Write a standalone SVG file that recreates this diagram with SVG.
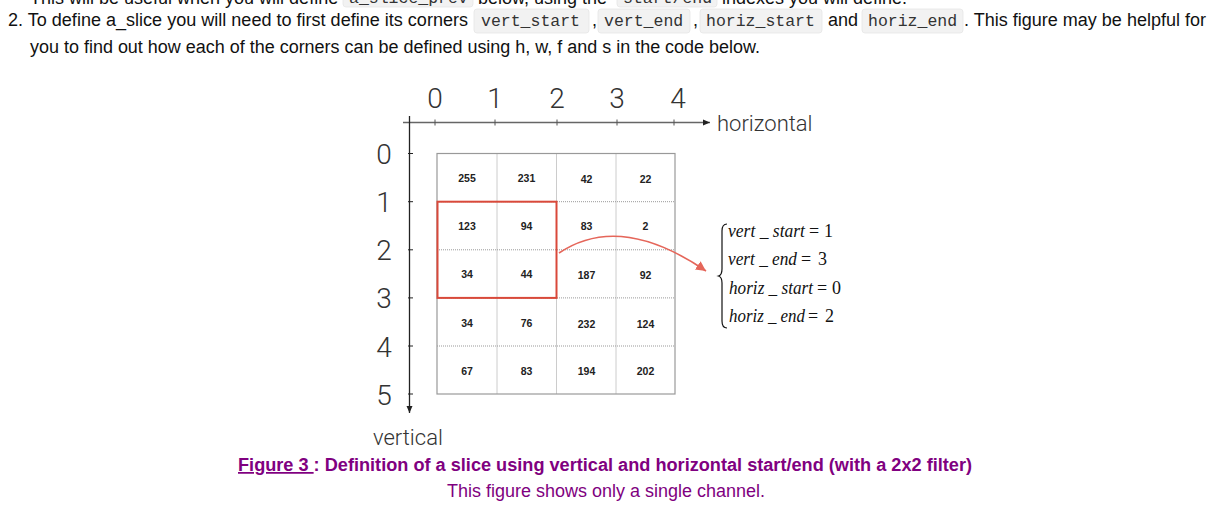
<svg xmlns="http://www.w3.org/2000/svg" width="1232" height="516" viewBox="0 0 1232 516">
<style>
.body{font-family:"Liberation Sans",Arial,sans-serif;font-size:18px;fill:#111}
.code{font-family:"Liberation Mono","DejaVu Sans Mono",monospace;font-size:16.5px;fill:#333}
.cbox{fill:#f2f2f2;stroke:#e6e6e6;stroke-width:0.8}
.ax{font-family:Roboto,"Liberation Sans",Arial,sans-serif;font-weight:300;font-size:28px;fill:#333;text-anchor:middle}
.axl{font-family:Roboto,"Liberation Sans",Arial,sans-serif;font-weight:300;font-size:22px;fill:#333}
.cell{font-family:"Liberation Sans",Arial,sans-serif;font-weight:bold;font-size:10.5px;fill:#222;text-anchor:middle}
.grid{stroke:#999;stroke-width:1;stroke-dasharray:1 1;fill:none}
.eq{font-family:"Liberation Serif","Times New Roman",serif;font-size:18px;fill:#111}
.cap{font-family:"Liberation Sans",Arial,sans-serif;font-size:17.5px;fill:#800080}
</style>
<defs>
<marker id="axarrow" markerUnits="userSpaceOnUse" markerWidth="10" markerHeight="10" refX="7" refY="3.5" orient="auto">
<path d="M0,0.5 L7,3.5 L0,6.5 Z" fill="#222"/>
</marker>
<marker id="redarrow" markerUnits="userSpaceOnUse" markerWidth="14" markerHeight="14" refX="10" refY="5" orient="auto">
<path d="M0,0 L10,5 L0,10 Z" fill="#e5665a"/>
</marker>
</defs>

<g id="header">
<text class="body" x="30" y="4">This will be useful when you will define</text>
<rect class="cbox" x="343" y="-17" width="130" height="24" rx="3"/>
<text class="code" x="349" y="3">a_slice_prev</text>
<text class="body" x="478" y="4">below, using the</text>
<rect class="cbox" x="617" y="-17" width="100" height="24" rx="3"/>
<text class="code" x="623" y="3">start/end</text>
<text class="body" x="722" y="4">indexes you will define.</text>

<text class="body" x="8" y="26" textLength="460" lengthAdjust="spacingAndGlyphs">2. To define a_slice you will need to first define its corners</text>
<rect class="cbox" x="474" y="9" width="115" height="24" rx="3"/>
<text class="code" x="481" y="26">vert_start</text>
<text class="body" x="592" y="26">,</text>
<rect class="cbox" x="598" y="9" width="92" height="24" rx="3"/>
<text class="code" x="604" y="26">vert_end</text>
<text class="body" x="693" y="26">,</text>
<rect class="cbox" x="700" y="9" width="122" height="24" rx="3"/>
<text class="code" x="706" y="26">horiz_start</text>
<text class="body" x="828" y="26">and</text>
<rect class="cbox" x="862" y="9" width="101" height="24" rx="3"/>
<text class="code" x="868" y="26">horiz_end</text>
<text class="body" x="964" y="26" textLength="242" lengthAdjust="spacingAndGlyphs">. This figure may be helpful for</text>
<text class="body" x="30" y="53" textLength="730" lengthAdjust="spacingAndGlyphs">you to find out how each of the corners can be defined using h, w, f and s in the code below.</text>
</g>

<g id="axes">
<line x1="403" y1="122.5" x2="710" y2="122.5" stroke="#666" stroke-width="1.3" marker-end="url(#axarrow)"/>
<line x1="409.5" y1="116" x2="409.5" y2="413" stroke="#222" stroke-width="1.3" marker-end="url(#axarrow)"/>
<g stroke="#555" stroke-width="1">
<line x1="435" y1="119.5" x2="435" y2="125.5"/>
<line x1="495" y1="119.5" x2="495" y2="125.5"/>
<line x1="557" y1="119.5" x2="557" y2="125.5"/>
<line x1="617" y1="119.5" x2="617" y2="125.5"/>
<line x1="674" y1="119.5" x2="674" y2="125.5"/>
</g>
<g stroke="#222" stroke-width="1">
<line x1="408" y1="153.5" x2="413" y2="153.5"/>
<line x1="408" y1="201.7" x2="413" y2="201.7"/>
<line x1="408" y1="249.8" x2="413" y2="249.8"/>
<line x1="408" y1="297.9" x2="413" y2="297.9"/>
<line x1="408" y1="346" x2="413" y2="346"/>
<line x1="408" y1="394" x2="413" y2="394"/>
</g>
<text class="ax" x="435" y="108">0</text>
<text class="ax" x="495" y="108">1</text>
<text class="ax" x="557" y="108">2</text>
<text class="ax" x="617" y="108">3</text>
<text class="ax" x="678" y="108">4</text>
<text class="ax" x="384" y="164">0</text>
<text class="ax" x="384" y="212">1</text>
<text class="ax" x="384" y="260">2</text>
<text class="ax" x="384" y="308">3</text>
<text class="ax" x="384" y="357">4</text>
<text class="ax" x="384" y="405">5</text>
<text class="axl" x="717" y="131">horizontal</text>
<text class="axl" x="373" y="445">vertical</text>
</g>

<g id="matrix">
<line class="grid" x1="497" y1="153.5" x2="497" y2="394"/>
<line class="grid" x1="556.5" y1="153.5" x2="556.5" y2="394"/>
<line class="grid" x1="616" y1="153.5" x2="616" y2="394"/>
<line class="grid" x1="437" y1="201.7" x2="675" y2="201.7"/>
<line class="grid" x1="437" y1="249.8" x2="675" y2="249.8"/>
<line class="grid" x1="437" y1="297.9" x2="675" y2="297.9"/>
<line class="grid" x1="437" y1="346" x2="675" y2="346"/>
<rect x="437" y="153.5" width="238" height="240.5" fill="none" stroke="#999" stroke-width="1.2"/>
<text class="cell" x="467" y="181.5">255</text>
<text class="cell" x="526.5" y="181.5">231</text>
<text class="cell" x="586.5" y="182.5">42</text>
<text class="cell" x="645.5" y="182.5">22</text>
<text class="cell" x="467" y="229.5">123</text>
<text class="cell" x="526.5" y="229.5">94</text>
<text class="cell" x="586.5" y="229.5">83</text>
<text class="cell" x="645.5" y="229.5">2</text>
<text class="cell" x="467" y="278">34</text>
<text class="cell" x="526.5" y="278">44</text>
<text class="cell" x="586.5" y="279">187</text>
<text class="cell" x="645.5" y="279">92</text>
<text class="cell" x="467" y="326.5">34</text>
<text class="cell" x="526.5" y="326.5">76</text>
<text class="cell" x="586.5" y="327.5">232</text>
<text class="cell" x="645.5" y="327.5">124</text>
<text class="cell" x="467" y="374.5">67</text>
<text class="cell" x="526.5" y="374.5">83</text>
<text class="cell" x="586.5" y="374.5">194</text>
<text class="cell" x="645.5" y="374.5">202</text>
</g>

<g id="slice">
<rect x="437.5" y="201.7" width="119" height="96.2" fill="none" stroke="#d9493a" stroke-width="2"/>
</g>

<g id="connectors">
<path d="M559,253 Q620,212 706,271" fill="none" stroke="#e5665a" stroke-width="1.6" marker-end="url(#redarrow)"/>
</g>

<g id="equations">
<path d="M727,224 Q722,224 722,231 L722,269 Q722,275 718.5,276 Q722,277 722,283 L722,321 Q722,328 727,328" fill="none" stroke="#111" stroke-width="1.2"/>
<text class="eq" y="237"><tspan x="728" font-style="italic" textLength="77" lengthAdjust="spacingAndGlyphs">vert _ start</tspan><tspan x="809">=</tspan><tspan x="824">1</tspan></text>
<text class="eq" y="265"><tspan x="728" font-style="italic" textLength="69" lengthAdjust="spacingAndGlyphs">vert _ end</tspan><tspan x="801">=</tspan><tspan x="818">3</tspan></text>
<text class="eq" y="293.5"><tspan x="729" font-style="italic" textLength="84" lengthAdjust="spacingAndGlyphs">horiz _ start</tspan><tspan x="817">=</tspan><tspan x="832">0</tspan></text>
<text class="eq" y="322"><tspan x="729" font-style="italic" textLength="76" lengthAdjust="spacingAndGlyphs">horiz _ end</tspan><tspan x="808">=</tspan><tspan x="825">2</tspan></text>
</g>

<g id="caption">
<text class="cap" x="238" y="471" font-weight="bold" textLength="734" lengthAdjust="spacingAndGlyphs"><tspan text-decoration="underline">Figure 3 </tspan>: Definition of a slice using vertical and horizontal start/end (with a 2x2 filter)</text>
<text class="cap" x="606" y="497" text-anchor="middle" textLength="318" lengthAdjust="spacingAndGlyphs">This figure shows only a single channel.</text>
</g>
</svg>
